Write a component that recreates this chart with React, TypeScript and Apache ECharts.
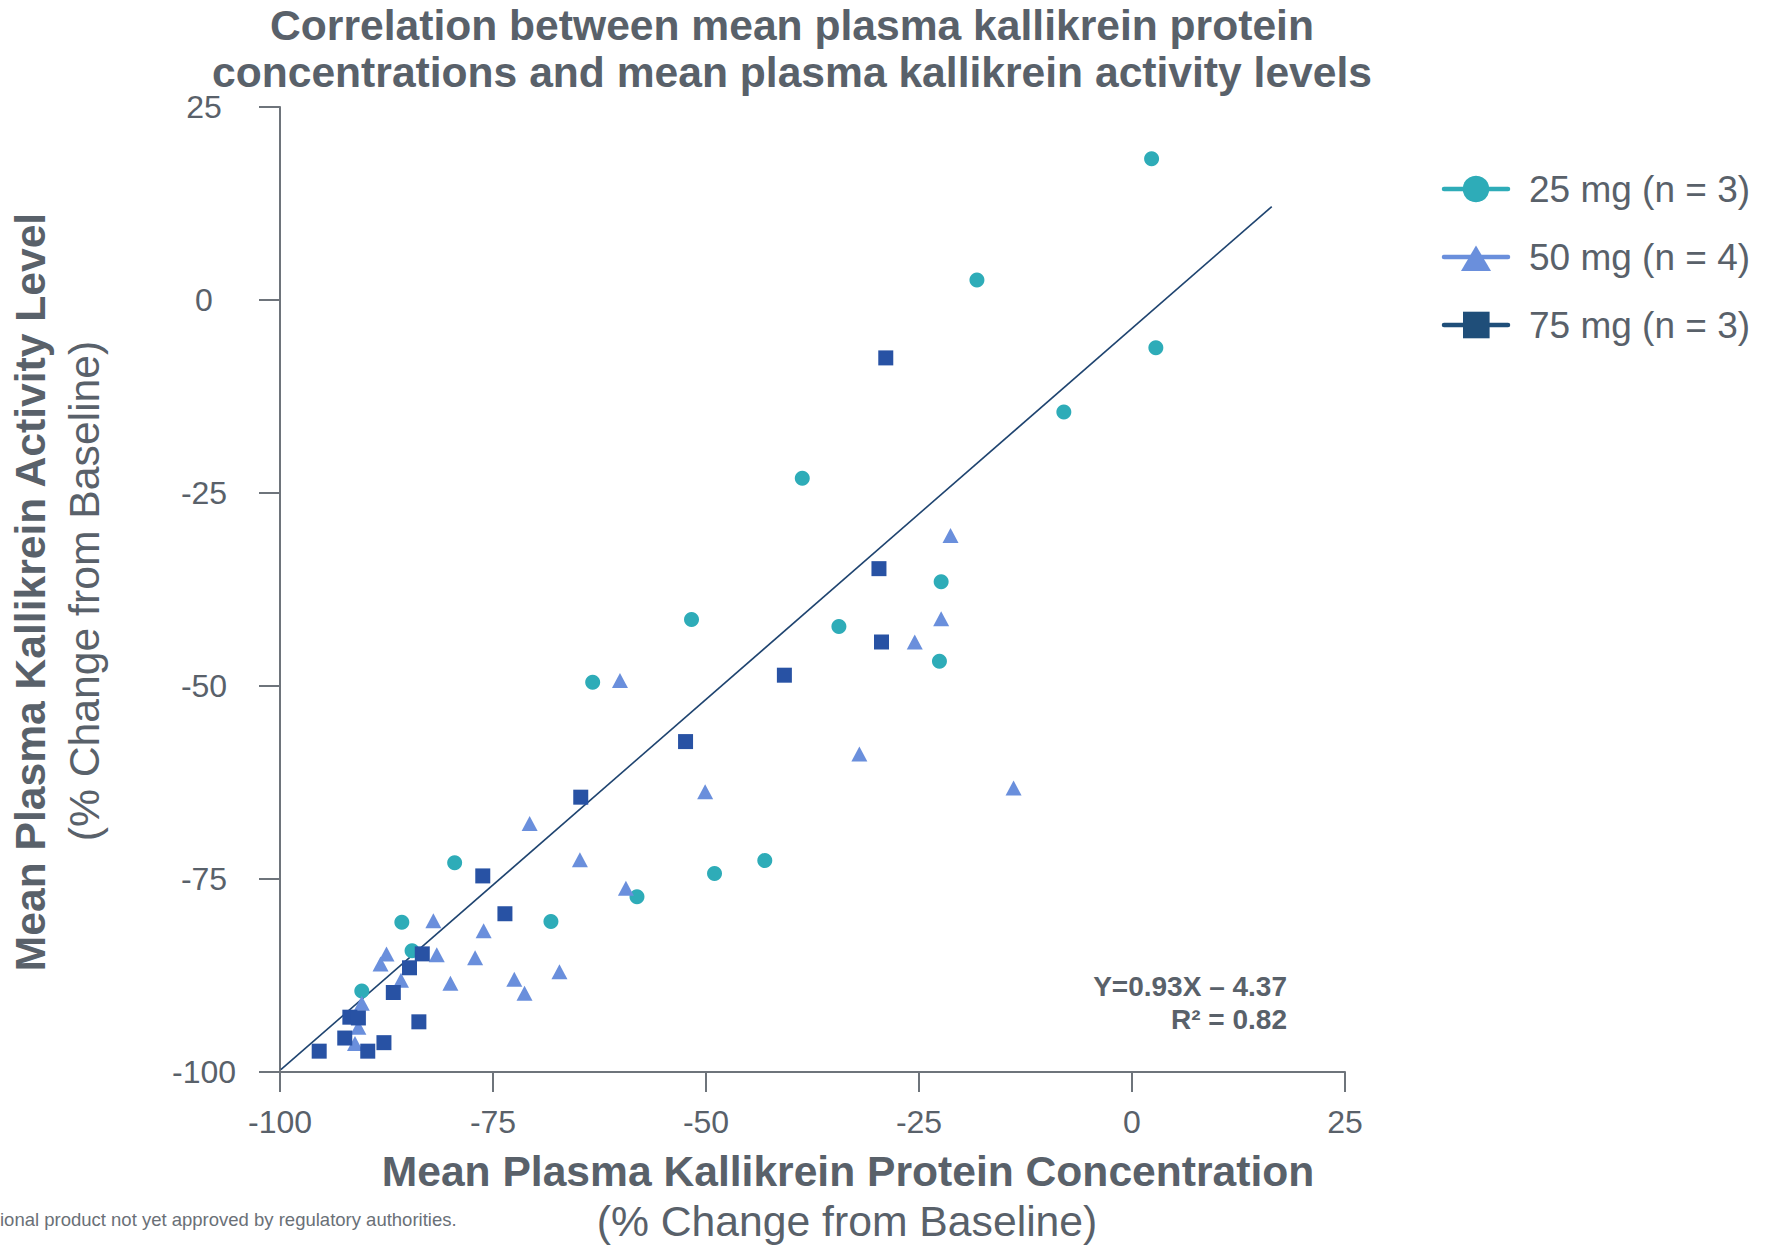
import React, { useEffect, useRef } from "react";
import * as echarts from "echarts";

// ---- Data ----
const dose25X = [2.3, -18.2, 2.8, -8.0, -38.7, -22.4, -51.7, -34.4, -63.3, -22.6, -79.5, -49.0, -43.1, -58.1, -85.7, -68.2, -84.5, -90.4];
const dose25Y = [18.3, 2.6, -6.2, -14.5, -23.1, -36.5, -41.4, -42.3, -49.5, -46.8, -72.9, -74.3, -72.6, -77.3, -80.6, -80.5, -84.3, -89.5];

const dose50X = [-21.3, -22.4, -25.5, -60.1, -32.0, -50.1, -13.9, -70.7, -64.8, -59.4, -82.0, -76.1, -87.5, -88.2, -81.6, -77.1, -85.8, -80.0, -72.5, -67.2, -71.3, -90.4, -90.8, -91.2];
const dose50Y = [-30.5, -41.3, -44.3, -49.3, -58.8, -63.7, -63.2, -67.8, -72.5, -76.2, -80.4, -81.7, -84.7, -86.0, -84.8, -85.2, -88.1, -88.5, -88.0, -87.0, -89.8, -91.1, -94.2, -96.3];

const dose75X = [-28.9, -29.7, -29.4, -40.8, -52.4, -64.7, -76.2, -73.6, -83.3, -84.8, -86.7, -91.8, -90.8, -83.7, -92.4, -87.8, -89.7, -95.4];
const dose75Y = [-7.5, -34.8, -44.3, -48.6, -57.2, -64.4, -74.6, -79.5, -84.7, -86.5, -89.7, -92.9, -93.0, -93.5, -95.6, -96.2, -97.3, -97.3];

const trendX = [-99.9, 16.4];
const trendY = [-99.7, 12.1];

const seriesNames = ["25 mg (n = 3)", "50 mg (n = 4)", "75 mg (n = 3)"];
const axisMin = -100;
const axisMax = 25;
const axisStep = 25;

const titleLine1 = "Correlation between mean plasma kallikrein protein";
const titleLine2 = "concentrations and mean plasma kallikrein activity levels";
const xTitleBold = "Mean Plasma Kallikrein Protein Concentration";
const yTitleBold = "Mean Plasma Kallikrein Activity Level";
const subTitle = "(% Change from Baseline)";
const eqLine1 = "Y=0.93X \u2013 4.37";
const eqLine2 = "R\u00B2 = 0.82";
const footnote = "ional product not yet approved by regulatory authorities.";

const FONT = "'Liberation Sans', Arial, Helvetica, sans-serif";
const TEXT = "#59616a";
const AXIS = "#6e747b";
const C_TEAL = "#2eacb8";
const C_TRI = "#6a8fdc";
const C_SQ = "#2852a4";
const C_SQ_LEG = "#1f4e79";
const C_TREND = "#1f4470";

const zip = (xs: number[], ys: number[]) => xs.map((x, i) => [x, ys[i]]);

export default function App() {
  const ref = useRef<HTMLDivElement>(null);

  useEffect(() => {
    if (!ref.current) return;
    const chart = echarts.init(ref.current, undefined, { renderer: "svg" });

    const legendRows = [
      { y: 189, color: C_TEAL, shape: "circle" },
      { y: 257, color: C_TRI, shape: "triangle" },
      { y: 325, color: C_SQ_LEG, shape: "rect" },
    ];
    const legendGraphics: any[] = [];
    legendRows.forEach((r, i) => {
      legendGraphics.push({
        type: "line",
        shape: { x1: 1444, y1: r.y, x2: 1508, y2: r.y },
        style: { stroke: r.color, lineWidth: 4.5, lineCap: "round" },
      });
      if (r.shape === "circle") {
        legendGraphics.push({ type: "circle", shape: { cx: 1476, cy: r.y, r: 13.3 }, style: { fill: r.color } });
      } else if (r.shape === "triangle") {
        legendGraphics.push({
          type: "polygon",
          shape: { points: [[1461, r.y + 14], [1491, r.y + 14], [1476, r.y - 11.5]] },
          style: { fill: r.color },
        });
      } else {
        legendGraphics.push({ type: "rect", shape: { x: 1463, y: r.y - 13.3, width: 26.6, height: 26.6 }, style: { fill: r.color } });
      }
      legendGraphics.push({
        type: "text",
        x: 1529,
        y: r.y,
        style: { text: seriesNames[i], fill: TEXT, font: `37px ${FONT}`, align: "left", verticalAlign: "middle" },
      });
    });

    const option: any = {
      animation: false,
      backgroundColor: "#ffffff",
      grid: { left: 280, top: 107, width: 1065, height: 965, containLabel: false },
      xAxis: {
        type: "value",
        min: axisMin,
        max: axisMax,
        interval: axisStep,
        axisLine: { show: true, onZero: false, lineStyle: { color: AXIS, width: 2 } },
        axisTick: { show: true, length: 20, lineStyle: { color: AXIS, width: 2 } },
        splitLine: { show: false },
        axisLabel: { color: TEXT, fontSize: 32, fontFamily: FONT, margin: 50, verticalAlign: "middle" },
      },
      yAxis: {
        type: "value",
        min: axisMin,
        max: axisMax,
        interval: axisStep,
        axisLine: { show: true, onZero: false, lineStyle: { color: AXIS, width: 2 } },
        axisTick: { show: true, length: 21, lineStyle: { color: AXIS, width: 2 } },
        splitLine: { show: false },
        axisLabel: { color: TEXT, fontSize: 32, fontFamily: FONT, margin: 76, align: "center" },
      },
      series: [
        {
          name: "trend",
          type: "line",
          data: zip(trendX, trendY),
          symbol: "none",
          lineStyle: { color: C_TREND, width: 1.6 },
          z: 1,
          silent: true,
        },
        {
          name: seriesNames[0],
          type: "scatter",
          data: zip(dose25X, dose25Y),
          symbol: "circle",
          symbolSize: 15,
          itemStyle: { color: C_TEAL, opacity: 1 },
          z: 2,
        },
        {
          name: seriesNames[1],
          type: "scatter",
          data: zip(dose50X, dose50Y),
          symbol: "triangle",
          symbolSize: [16, 15],
          itemStyle: { color: C_TRI, opacity: 1 },
          z: 3,
        },
        {
          name: seriesNames[2],
          type: "scatter",
          data: zip(dose75X, dose75Y),
          symbol: "rect",
          symbolSize: 15,
          itemStyle: { color: C_SQ, opacity: 1 },
          z: 4,
        },
      ],
      graphic: [
        {
          type: "text",
          x: 792,
          y: 25,
          style: { text: titleLine1, fill: TEXT, font: `bold 42.6px ${FONT}`, align: "center", verticalAlign: "middle", lineHeight: 43 },
        },
        {
          type: "text",
          x: 792,
          y: 72,
          style: { text: titleLine2, fill: TEXT, font: `bold 42.6px ${FONT}`, align: "center", verticalAlign: "middle", lineHeight: 43 },
        },
        {
          type: "text",
          x: 848,
          y: 1171,
          style: { text: xTitleBold, fill: TEXT, font: `bold 42.6px ${FONT}`, align: "center", verticalAlign: "middle" },
        },
        {
          type: "text",
          x: 847,
          y: 1221,
          style: { text: subTitle, fill: TEXT, font: `42.7px ${FONT}`, align: "center", verticalAlign: "middle" },
        },
        {
          type: "text",
          x: 30,
          y: 592,
          rotation: Math.PI / 2,
          style: { text: yTitleBold, fill: TEXT, font: `bold 42.6px ${FONT}`, align: "center", verticalAlign: "middle" },
        },
        {
          type: "text",
          x: 84,
          y: 591,
          rotation: Math.PI / 2,
          style: { text: subTitle, fill: TEXT, font: `42.7px ${FONT}`, align: "center", verticalAlign: "middle" },
        },
        {
          type: "text",
          x: 1287,
          y: 986,
          style: { text: eqLine1, fill: TEXT, font: `bold 28px ${FONT}`, align: "right", verticalAlign: "middle" },
        },
        {
          type: "text",
          x: 1287,
          y: 1019,
          style: { text: eqLine2, fill: TEXT, font: `bold 28px ${FONT}`, align: "right", verticalAlign: "middle" },
        },
        {
          type: "text",
          x: 0,
          y: 1219,
          style: { text: footnote, fill: "#6a7077", font: `18.5px ${FONT}`, align: "left", verticalAlign: "middle" },
        },
        ...legendGraphics,
      ],
    };

    chart.setOption(option);
    return () => chart.dispose();
  }, []);

  return (
    <div
      ref={ref}
      style={{ position: "fixed", left: 0, top: 0, width: 1765, height: 1245, background: "#fff" }}
    />
  );
}
